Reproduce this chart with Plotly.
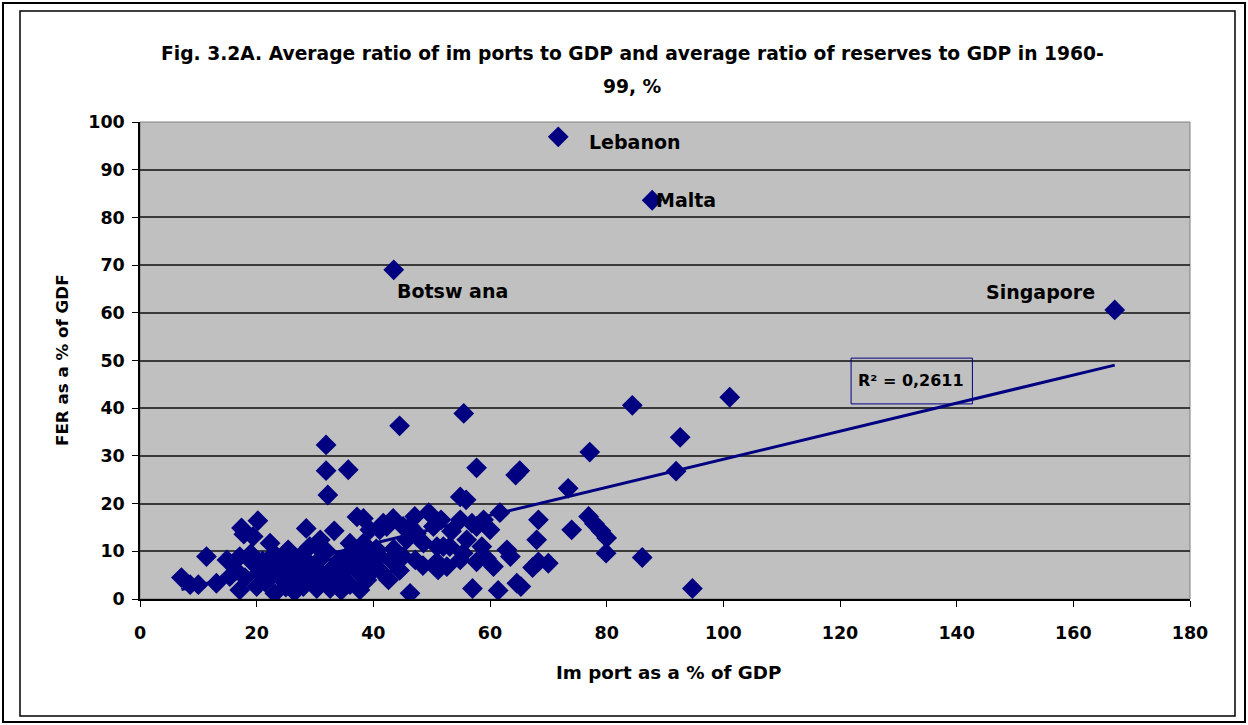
import numpy as np
import plotly.graph_objects as go

# Average imports / GDP (%) per country, 1960-99
import_pct = [
    71.7, 87.8, 43.5, 167.1, 101.1, 84.4, 92.6, 55.5, 44.5, 31.9,
    77.1, 91.9, 57.7, 64.4, 65.1, 35.7, 31.9, 32.2, 73.4, 54.9,
    55.9, 61.7, 68.3, 76.9, 77.9, 79.0, 80.0, 79.9, 74.0, 68.0,
    86.1, 68.3, 70.0, 67.3, 62.9, 63.5, 60.6, 64.6, 65.3, 61.4,
    57.0, 94.7, 46.3, 51.1, 48.5, 47.2, 50.9, 52.6, 54.9, 47.1,
    49.5, 51.6, 54.9, 56.9, 58.9, 60.0, 58.6, 55.4, 52.0, 50.3,
    53.4, 57.7, 59.4, 45.7, 45.1, 57.7, 48.6, 50.9, 53.1, 56.0,
    46.3, 47.4, 41.7, 43.4, 38.3, 39.4, 41.1, 42.9, 42.6, 38.3,
    38.9, 40.0, 38.9, 37.2, 41.1, 42.3, 45.1, 17.4, 17.8, 20.2,
    28.5, 33.3, 11.4, 14.9, 7.1, 8.6, 10.0, 13.1, 15.4, 17.1,
    17.1, 19.4, 23.1, 20.0, 22.3, 25.4, 19.4, 29.1, 30.9, 28.0,
    30.3, 32.6, 37.7, 35.4, 37.1, 30.9, 36.0, 16.5, 18.0, 19.0,
    20.5, 21.0, 21.5, 22.5, 23.0, 24.0, 24.5, 25.0, 25.5, 26.0,
    26.5, 27.0, 27.5, 28.5, 29.0, 29.5, 30.5, 31.0, 31.5, 32.0,
    33.0, 33.5, 34.0, 34.5, 35.5, 36.0, 36.5, 37.5, 38.0, 39.5,
    40.5, 41.5, 43.5, 44.5, 26.5, 34.5,
]

# Average foreign exchange reserves / GDP (%) per country, 1960-99
reserves_pct = [
    96.9, 83.6, 69.0, 60.6, 42.3, 40.6, 33.9, 38.9, 36.3, 32.3,
    30.8, 26.8, 27.5, 26.0, 26.9, 27.1, 26.9, 21.8, 23.2, 21.4,
    20.8, 18.1, 16.6, 17.3, 15.8, 14.3, 12.8, 9.6, 14.5, 12.4,
    8.7, 7.8, 7.5, 6.6, 10.3, 8.9, 6.8, 3.3, 2.6, 1.8,
    2.2, 2.2, 1.2, 6.1, 7.0, 8.2, 7.8, 6.8, 8.2, 17.3,
    18.1, 16.6, 16.6, 15.9, 16.6, 14.5, 11.0, 9.6, 11.0, 15.2,
    14.2, 7.8, 8.5, 12.4, 8.9, 15.2, 11.7, 11.0, 11.0, 12.4,
    15.2, 13.8, 15.9, 16.9, 16.9, 14.5, 8.9, 8.2, 4.0, 11.7,
    9.6, 6.1, 4.0, 17.2, 14.5, 15.2, 15.2, 14.9, 13.6, 16.4,
    14.8, 14.3, 8.9, 8.2, 4.5, 3.0, 3.0, 3.3, 4.7, 1.9,
    8.9, 7.5, 1.2, 2.6, 11.7, 10.3, 13.1, 11.0, 10.3, 2.6,
    2.2, 2.2, 1.9, 8.9, 8.2, 12.4, 11.7, 6.0, 4.5, 9.5,
    5.5, 8.0, 3.5, 6.5, 9.5, 4.5, 7.5, 2.5, 5.5, 8.5,
    3.5, 6.5, 9.0, 5.0, 7.5, 3.5, 6.0, 8.5, 4.5, 10.0,
    6.5, 3.5, 8.0, 5.0, 6.5, 3.0, 10.0, 5.5, 7.5, 8.0,
    10.5, 5.5, 10.5, 6.0, 1.5, 1.8,
]

# Named countries
labels = ["Lebanon", "Malta", "Botsw ana", "Singapore"]
label_x = [84.9, 93.6, 53.5, 154.3]
label_y = [95.8, 83.6, 64.6, 64.4]

r2_text = "R² = 0,2611"

x_ticks = [0, 20, 40, 60, 80, 100, 120, 140, 160, 180]
y_ticks = [0, 10, 20, 30, 40, 50, 60, 70, 80, 90, 100]

NAVY = "#000080"
FONT = "DejaVu Sans"

# Linear trend fitted to the scatter
xs = np.array(import_pct)
ys = np.array(reserves_pct)
slope, intercept = np.polyfit(xs, ys, 1)
trend_x = np.array([xs.min(), xs.max()])
trend_y = slope * trend_x + intercept

fig = go.Figure()
fig.add_trace(go.Scatter(
    x=trend_x, y=trend_y, mode="lines",
    line=dict(color=NAVY, width=3), hoverinfo="skip", showlegend=False,
))
fig.add_trace(go.Scatter(
    x=import_pct, y=reserves_pct, mode="markers",
    marker=dict(symbol="diamond", size=16, color=NAVY, line=dict(width=0)),
    showlegend=False,
))

# Plot area in pixels: x 140..1190, y 122..599
L, R, T, B = 140, 1190, 122, 599


def px(xp):
    return (xp - L) / (R - L)


def py(yp):
    return (B - yp) / (B - T)


def bold(size):
    return dict(family=FONT, size=size, color="black", weight="bold")


annotations = []
for name, lx, ly in zip(labels, label_x, label_y):
    annotations.append(dict(
        x=lx, y=ly, xref="x", yref="y", text=name, showarrow=False,
        xanchor="center", yanchor="middle", font=bold(19),
    ))

# R-squared note
annotations.append(dict(
    x=132.2, y=45.9, xref="x", yref="y", text=r2_text, showarrow=False,
    xanchor="center", yanchor="middle", font=bold(16),
))

annotations += [
    dict(x=px(632), y=py(53), xref="paper", yref="paper", showarrow=False,
         xanchor="center", yanchor="middle",
         text="Fig. 3.2A. Average ratio of im ports to GDP and average ratio of reserves to GDP in 1960-",
         font=bold(18.7)),
    dict(x=px(632), y=py(87), xref="paper", yref="paper", showarrow=False,
         xanchor="center", yanchor="middle", text="99, %", font=bold(18.7)),
    dict(x=px(668), y=py(672), xref="paper", yref="paper", showarrow=False,
         xanchor="center", yanchor="middle",
         text="Im port as a % of GDP", font=bold(18.3)),
    dict(x=px(62), y=py(360), xref="paper", yref="paper", showarrow=False,
         xanchor="center", yanchor="middle",
         text="FER as a % of GDF", textangle=-90, font=bold(16.7)),
]

shapes = [
    # page frame
    dict(type="rect", xref="paper", yref="paper",
         x0=px(3), x1=px(1245), y0=py(3), y1=py(722),
         line=dict(color="black", width=2)),
    # chart frame
    dict(type="rect", xref="paper", yref="paper",
         x0=px(20), x1=px(1235), y0=py(11), y1=py(716),
         line=dict(color="black", width=1.5)),
    # plot area border
    dict(type="rect", xref="paper", yref="paper", x0=0, x1=1, y0=0, y1=1,
         line=dict(color="#808080", width=1), layer="below"),
    # R-squared box
    dict(type="rect", xref="x", yref="y", x0=121.9, x1=142.7, y0=40.9, y1=50.5,
         line=dict(color=NAVY, width=1)),
]

tick_font = bold(17.5)

fig.update_layout(
    width=1248, height=725,
    margin=dict(l=L, r=1248 - R, t=T, b=725 - B),
    paper_bgcolor="white", plot_bgcolor="#C0C0C0",
    font=dict(family=FONT),
    xaxis=dict(
        range=[0, 180], tickvals=x_ticks, ticks="outside", ticklen=6,
        tickcolor="black", tickwidth=1, showline=True, linecolor="black",
        linewidth=1.5, showgrid=False, zeroline=False, tickfont=tick_font,
        ticklabelstandoff=11,
    ),
    yaxis=dict(
        range=[0, 100], tickvals=y_ticks, ticks="outside", ticklen=6,
        tickcolor="black", tickwidth=1, showline=True, linecolor="black",
        linewidth=1.5, showgrid=True, gridcolor="#3a3a3a", gridwidth=1.5,
        zeroline=False, tickfont=tick_font, ticklabelstandoff=4,
    ),
    annotations=annotations,
    shapes=shapes,
)

fig.write_html("out.html")
